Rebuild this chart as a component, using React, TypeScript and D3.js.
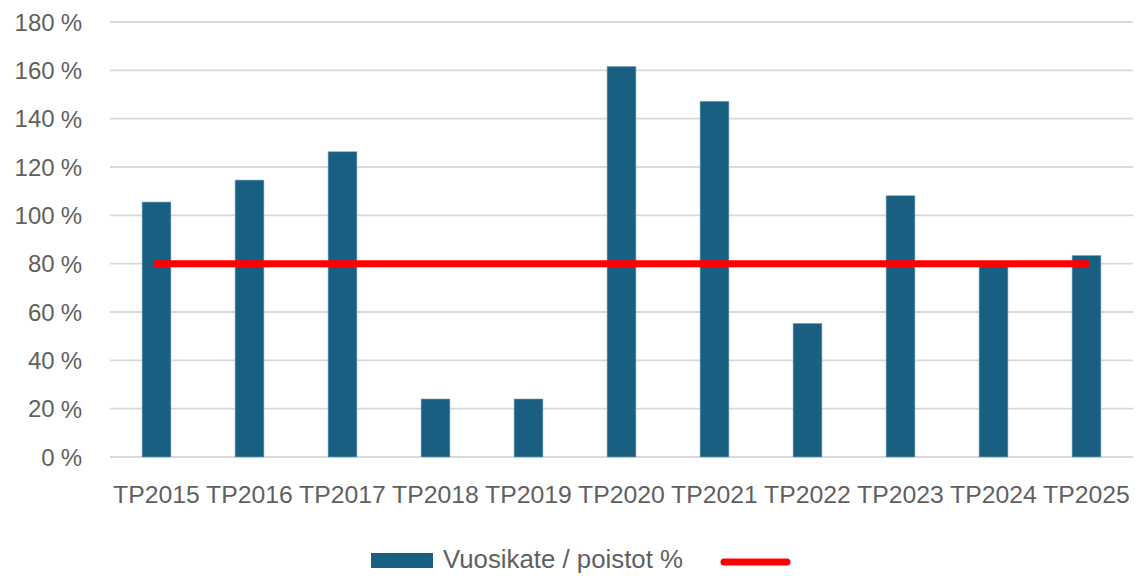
import React from "react";
import * as d3 from "d3";

const categories = ["TP2015", "TP2016", "TP2017", "TP2018", "TP2019", "TP2020", "TP2021", "TP2022", "TP2023", "TP2024", "TP2025"];
const ratioValues = [105.5, 114.6, 126.3, 24, 24, 161.6, 147.2, 55.3, 108.1, 79, 83.4];
const targetValues = [80, 80, 80, 80, 80, 80, 80, 80, 80, 80, 80];
const yTicks = [0, 20, 40, 60, 80, 100, 120, 140, 160, 180];
const seriesName = "Vuosikate / poistot %";

const W = 1137;
const H = 576;
const left = 110;
const right = 1133;
const top = 22;
const bottom = 457;
const FONT = "'Liberation Sans', Arial, sans-serif";
const TEXT = "#5f5f5f";
const BAR = "#185f82";

export default function App() {
  const x = d3.scaleBand<string>().domain(categories).range([left, right]).paddingInner(0.69).paddingOuter(0.345);
  const y = d3.scaleLinear().domain([0, 180]).range([bottom, top]);
  const line = d3
    .line<number>()
    .x((_, i) => (x(categories[i]) as number) + x.bandwidth() / 2)
    .y((d) => y(d));

  return (
    <svg width={W} height={H} style={{ position: "absolute", left: 0, top: 0, background: "#fff" }} fontFamily={FONT}>
      {yTicks.map((t) => (
        <g key={t}>
          <line x1={left} x2={right} y1={y(t)} y2={y(t)} stroke="#d9d9d9" strokeWidth={1.8} />
          <text x={82} y={y(t)} textAnchor="end" dominantBaseline="central" fontSize={24} fill={TEXT}>
            {t}
            <tspan dx={6}>%</tspan>
          </text>
        </g>
      ))}
      {categories.map((c, i) => (
        <rect
          key={c}
          x={x(c)}
          y={y(ratioValues[i])}
          width={x.bandwidth()}
          height={y(0) - y(ratioValues[i])}
          fill={BAR}
          stroke="#7fa7bd"
          strokeWidth={0.6}
        />
      ))}
      <path d={line(targetValues) || ""} fill="none" stroke="#ff0000" strokeWidth={7} strokeLinecap="round" />
      {categories.map((c) => (
        <text key={c} x={(x(c) as number) + x.bandwidth() / 2} y={503} textAnchor="middle" fontSize={24.8} fill={TEXT}>
          {c}
        </text>
      ))}
      <rect x={371} y={553} width={62} height={15} fill={BAR} />
      <text x={443} y={568} fontSize={25.8} fill={TEXT}>
        {seriesName}
      </text>
      <line x1={724} x2={787} y1={562} y2={562} stroke="#ff0000" strokeWidth={7} strokeLinecap="round" />
    </svg>
  );
}
